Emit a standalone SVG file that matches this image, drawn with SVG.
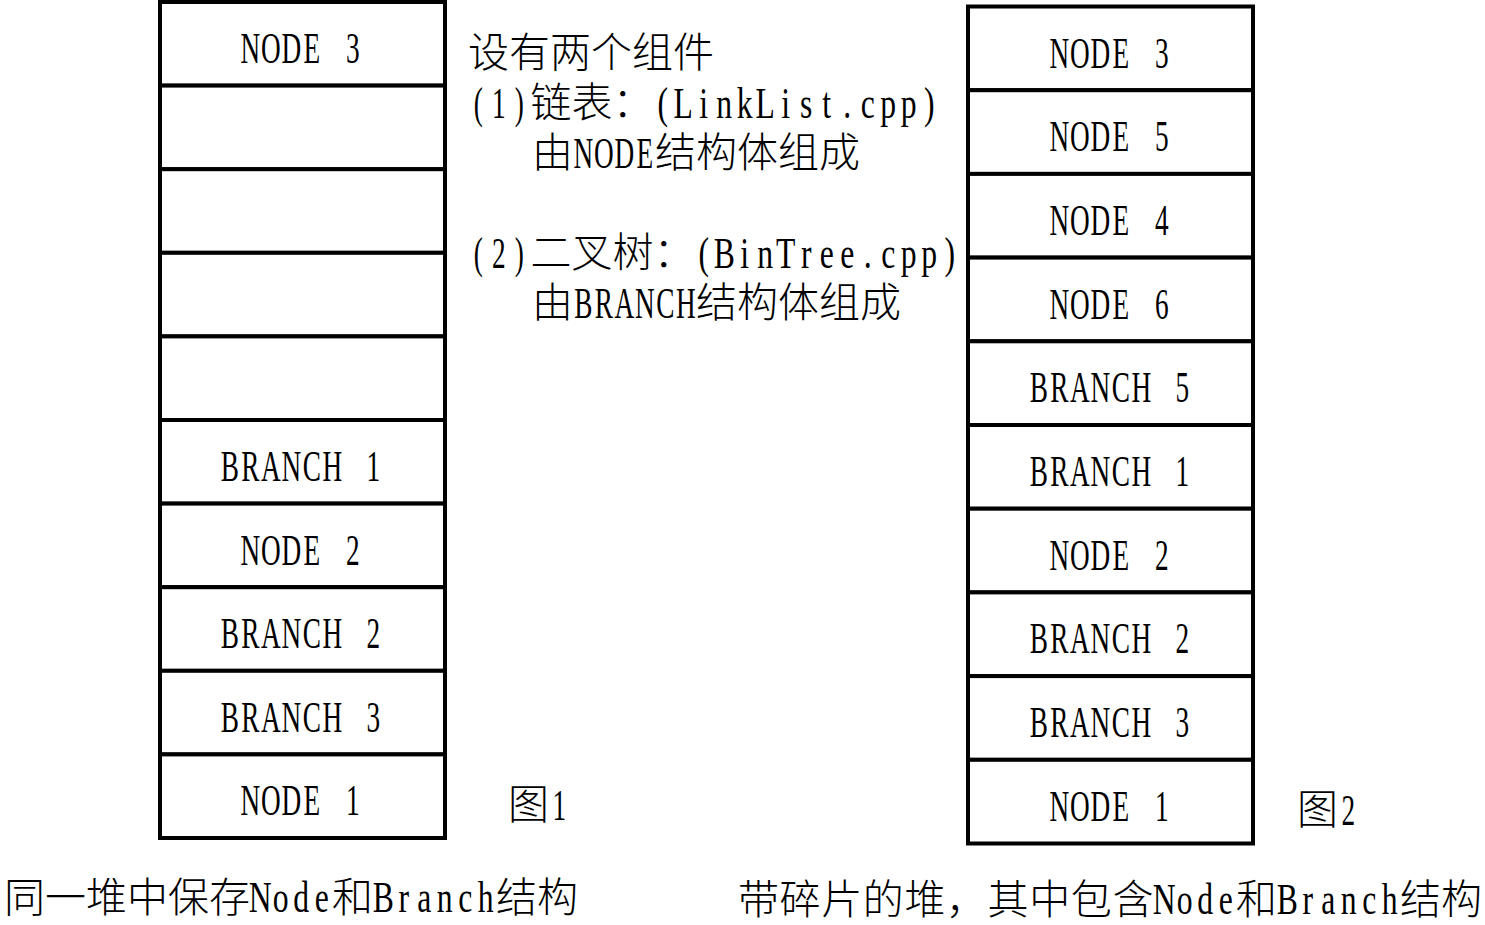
<svg xmlns="http://www.w3.org/2000/svg" width="1485" height="925" viewBox="0 0 1485 925">
<style>
.cell{fill:#fff;stroke:#000;stroke-width:4}
.lat{font-family:"Liberation Serif",serif;font-size:44px;fill:#000;text-anchor:middle}
.cjk{font-family:"Noto Sans CJK SC",sans-serif;font-size:41px;fill:#000;font-weight:300}
</style>
<rect width="1485" height="925" fill="#fff"/>
<g id="heap1">
<g id="h1-node3"><rect class="cell" x="160" y="2" width="285" height="83.6"/><text class="lat" transform="translate(240,63) scale(0.62,1)" x="16.53 49.6 82.66 115.73 148.79 181.85" y="0">NODE 3</text></g>
<g id="h1-empty1"><rect class="cell" x="160" y="85.6" width="285" height="83.6"/></g>
<g id="h1-empty2"><rect class="cell" x="160" y="169.2" width="285" height="83.6"/></g>
<g id="h1-empty3"><rect class="cell" x="160" y="252.8" width="285" height="83.6"/></g>
<g id="h1-empty4"><rect class="cell" x="160" y="336.4" width="285" height="83.6"/></g>
<g id="h1-branch1"><rect class="cell" x="160" y="420" width="285" height="83.6"/><text class="lat" transform="translate(219.5,481) scale(0.62,1)" x="16.53 49.6 82.66 115.73 148.79 181.85 214.92 247.98" y="0">BRANCH 1</text></g>
<g id="h1-node2"><rect class="cell" x="160" y="503.6" width="285" height="83.6"/><text class="lat" transform="translate(240,564.6) scale(0.62,1)" x="16.53 49.6 82.66 115.73 148.79 181.85" y="0">NODE 2</text></g>
<g id="h1-branch2"><rect class="cell" x="160" y="587.2" width="285" height="83.6"/><text class="lat" transform="translate(219.5,648.2) scale(0.62,1)" x="16.53 49.6 82.66 115.73 148.79 181.85 214.92 247.98" y="0">BRANCH 2</text></g>
<g id="h1-branch3"><rect class="cell" x="160" y="670.8" width="285" height="83.6"/><text class="lat" transform="translate(219.5,731.8) scale(0.62,1)" x="16.53 49.6 82.66 115.73 148.79 181.85 214.92 247.98" y="0">BRANCH 3</text></g>
<g id="h1-node1"><rect class="cell" x="160" y="754.4" width="285" height="83.6"/><text class="lat" transform="translate(240,815.4) scale(0.62,1)" x="16.53 49.6 82.66 115.73 148.79 181.85" y="0">NODE 1</text></g>
</g>
<g id="heap2">
<g id="h2-node3"><rect class="cell" x="968" y="6.5" width="285" height="83.7"/><text class="lat" transform="translate(1049,67.5) scale(0.62,1)" x="16.53 49.6 82.66 115.73 148.79 181.85" y="0">NODE 3</text></g>
<g id="h2-node5"><rect class="cell" x="968" y="90.2" width="285" height="83.7"/><text class="lat" transform="translate(1049,151.2) scale(0.62,1)" x="16.53 49.6 82.66 115.73 148.79 181.85" y="0">NODE 5</text></g>
<g id="h2-node4"><rect class="cell" x="968" y="173.9" width="285" height="83.7"/><text class="lat" transform="translate(1049,234.9) scale(0.62,1)" x="16.53 49.6 82.66 115.73 148.79 181.85" y="0">NODE 4</text></g>
<g id="h2-node6"><rect class="cell" x="968" y="257.6" width="285" height="83.7"/><text class="lat" transform="translate(1049,318.6) scale(0.62,1)" x="16.53 49.6 82.66 115.73 148.79 181.85" y="0">NODE 6</text></g>
<g id="h2-branch5"><rect class="cell" x="968" y="341.3" width="285" height="83.7"/><text class="lat" transform="translate(1028.5,402.3) scale(0.62,1)" x="16.53 49.6 82.66 115.73 148.79 181.85 214.92 247.98" y="0">BRANCH 5</text></g>
<g id="h2-branch1"><rect class="cell" x="968" y="425" width="285" height="83.7"/><text class="lat" transform="translate(1028.5,486) scale(0.62,1)" x="16.53 49.6 82.66 115.73 148.79 181.85 214.92 247.98" y="0">BRANCH 1</text></g>
<g id="h2-node2"><rect class="cell" x="968" y="508.7" width="285" height="83.7"/><text class="lat" transform="translate(1049,569.7) scale(0.62,1)" x="16.53 49.6 82.66 115.73 148.79 181.85" y="0">NODE 2</text></g>
<g id="h2-branch2"><rect class="cell" x="968" y="592.4" width="285" height="83.7"/><text class="lat" transform="translate(1028.5,653.4) scale(0.62,1)" x="16.53 49.6 82.66 115.73 148.79 181.85 214.92 247.98" y="0">BRANCH 2</text></g>
<g id="h2-branch3"><rect class="cell" x="968" y="676.1" width="285" height="83.7"/><text class="lat" transform="translate(1028.5,737.1) scale(0.62,1)" x="16.53 49.6 82.66 115.73 148.79 181.85 214.92 247.98" y="0">BRANCH 3</text></g>
<g id="h2-node1"><rect class="cell" x="968" y="759.8" width="285" height="83.7"/><text class="lat" transform="translate(1049,820.8) scale(0.62,1)" x="16.53 49.6 82.66 115.73 148.79 181.85" y="0">NODE 1</text></g>
</g>
<g id="connectors"/>
<g id="notes">
<text class="cjk" x="468" y="66.5">设有两个组件</text>
<text class="lat" transform="translate(468,118) scale(0.62,1)" x="16.53 49.6 82.66" y="0">(1)</text>
<text class="cjk" x="530.5" y="117">链表：</text>
<text class="lat" transform="translate(652.5,118) scale(0.72,1)" x="14.24 42.71 71.18 99.65 128.13 156.6 185.07 213.54 242.01 270.49 298.96 327.43 355.9 384.38" y="0">(LinkList.cpp)</text>
<text class="cjk" x="532" y="167">由</text>
<text class="lat" transform="translate(573,167.5) scale(0.62,1)" x="16.53 49.6 82.66 115.73" y="0">NODE</text>
<text class="cjk" x="655" y="167">结构体组成</text>
<text class="lat" transform="translate(468,268) scale(0.62,1)" x="16.53 49.6 82.66" y="0">(2)</text>
<text class="cjk" x="530.5" y="267">二叉树：</text>
<text class="lat" transform="translate(693.5,268) scale(0.72,1)" x="14.24 42.71 71.18 99.65 128.13 156.6 185.07 213.54 242.01 270.49 298.96 327.43 355.9" y="0">(BinTree.cpp)</text>
<text class="cjk" x="532" y="317">由</text>
<text class="lat" transform="translate(573,317.5) scale(0.62,1)" x="16.53 49.6 82.66 115.73 148.79 181.85" y="0">BRANCH</text>
<text class="cjk" x="696" y="317">结构体组成</text>
</g>
<g id="fig1-label">
<text class="cjk" x="508" y="819">图</text>
<text class="lat" transform="translate(549,820) scale(0.62,1)" x="16.53" y="0">1</text>
</g>
<g id="fig2-label">
<text class="cjk" x="1297" y="824">图</text>
<text class="lat" transform="translate(1338,825) scale(0.62,1)" x="16.53" y="0">2</text>
</g>
<g id="caption1">
<text class="cjk" x="4" y="912">同一堆中保存</text>
<text class="lat" transform="translate(250,912) scale(0.72,1)" x="14.24 42.71 71.18 99.65" y="0">Node</text>
<text class="cjk" x="332" y="912">和</text>
<text class="lat" transform="translate(373,912) scale(0.72,1)" x="14.24 42.71 71.18 99.65 128.13 156.6" y="0">Branch</text>
<text class="cjk" x="496" y="912">结构</text>
</g>
<g id="caption2">
<text class="cjk" x="738" y="914" letter-spacing="0.6">带碎片的堆，其中包含</text>
<text class="lat" transform="translate(1154,914) scale(0.72,1)" x="14.24 42.71 71.18 99.65" y="0">Node</text>
<text class="cjk" x="1236" y="914">和</text>
<text class="lat" transform="translate(1277,914) scale(0.72,1)" x="14.24 42.71 71.18 99.65 128.13 156.6" y="0">Branch</text>
<text class="cjk" x="1400" y="914">结构</text>
</g>
</svg>
